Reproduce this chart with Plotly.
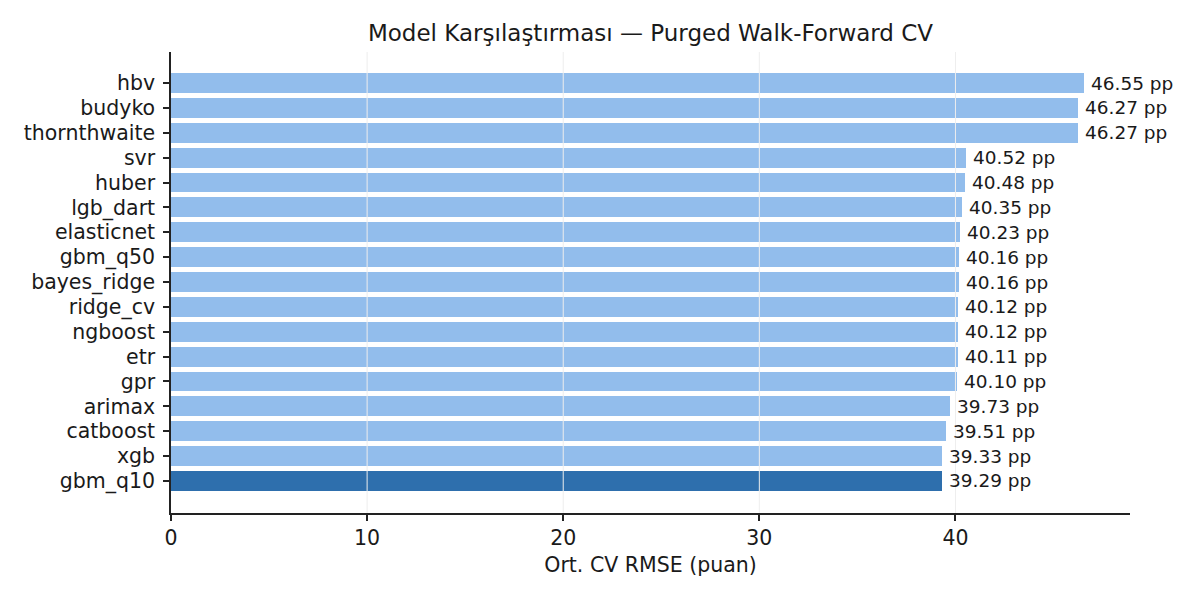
import plotly.graph_objects as go

models = ["hbv", "budyko", "thornthwaite", "svr", "huber", "lgb_dart", "elasticnet",
          "gbm_q50", "bayes_ridge", "ridge_cv", "ngboost", "etr", "gpr", "arimax",
          "catboost", "xgb", "gbm_q10"]
rmse = [46.55, 46.27, 46.27, 40.52, 40.48, 40.35, 40.23, 40.16, 40.16, 40.12,
        40.12, 40.11, 40.10, 39.73, 39.51, 39.33, 39.29]
best_model = "gbm_q10"
xticks = [0, 10, 20, 30, 40]

n = len(models)
ypos = [n - 1 - i for i in range(n)]
colors = ["#2e6fad" if m == best_model else "#92bdec" for m in models]

fig = go.Figure()
fig.add_trace(go.Bar(
    x=rmse, y=ypos, orientation="h", width=0.8,
    marker=dict(color=colors, line=dict(width=0)),
    hoverinfo="skip",
))

for m, v, y in zip(models, rmse, ypos):
    fig.add_annotation(x=v, y=y, text=f"{v:.2f} pp", showarrow=False,
                       xanchor="left", yanchor="middle", xshift=5,
                       font=dict(size=18.5, color="#1a1a1a"))

for t in xticks[1:]:
    fig.add_shape(type="line", xref="x", yref="paper", x0=t, x1=t, y0=0, y1=1,
                  line=dict(color="#eeeeee", width=1), layer="above")

fig.update_layout(
    width=1200, height=600,
    paper_bgcolor="white", plot_bgcolor="white",
    margin=dict(l=163, r=78, t=44, b=95),
    font=dict(family="DejaVu Sans", size=20.5, color="#1a1a1a"),
    title=dict(text="Model Karşılaştırması — Purged Walk-Forward CV",
               x=0.5, xanchor="center", xref="paper", y=0.958, yanchor="middle",
               font=dict(size=23)),
    showlegend=False,
    bargap=0,
)
fig.update_xaxes(range=[0, 48.9], tickvals=xticks, ticktext=[str(t) for t in xticks],
                 showgrid=False, zeroline=False,
                 showline=True, linecolor="#222222", linewidth=1.5,
                 ticks="outside", ticklen=6, tickwidth=1.5, tickcolor="#222222",
                 title=dict(text="Ort. CV RMSE (puan)", standoff=8, font=dict(size=20.5)))
fig.update_yaxes(range=[-1.29, n - 1 + 1.25], tickvals=ypos, ticktext=models,
                 showgrid=False, zeroline=False,
                 showline=True, linecolor="#222222", linewidth=1.5,
                 ticks="outside", ticklen=6, tickwidth=1.5, tickcolor="#222222",
                 ticklabelstandoff=4)

fig.write_html("out.html")
